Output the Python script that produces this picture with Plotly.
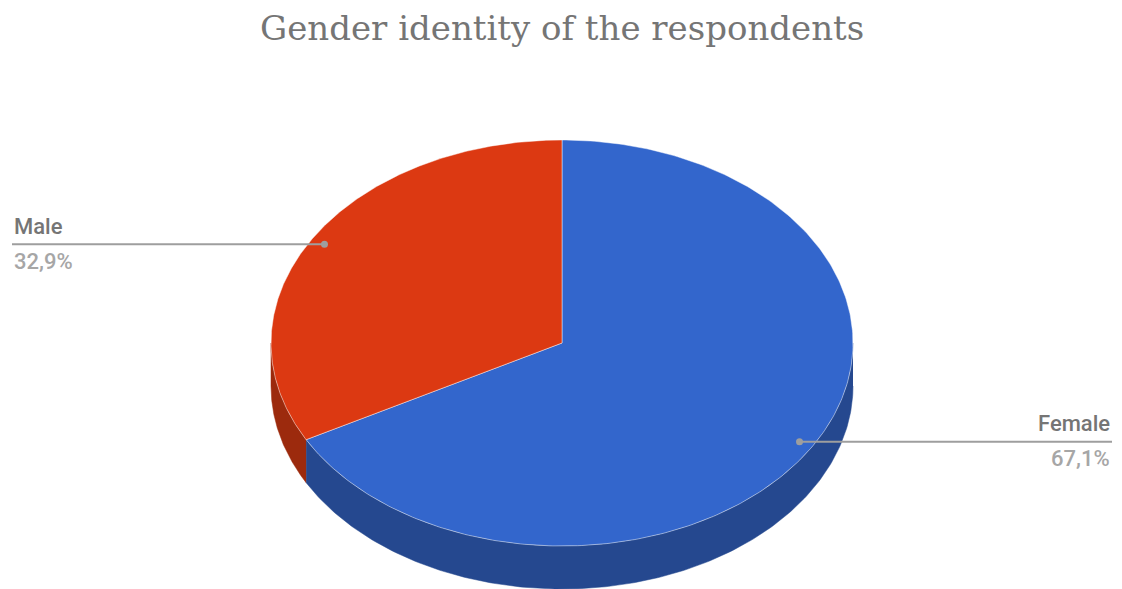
import numpy as np
import plotly.graph_objects as go

# Survey result
categories = ["Female", "Male"]
shares = [67.1, 32.9]
top_colors = ["#3366CC", "#DC3912"]
side_colors = ["#25488F", "#9C2A0D"]
title_text = "Gender identity of the respondents"

W, H = 1122, 589
CX, CY = 562, 343        # centre of the top face (px)
RX, RY = 291, 203        # ellipse radii
DEPTH = 43               # thickness of the disc

def pt(theta_deg, fx=1.0, fy=1.0, dz=0.0):
    t = np.radians(theta_deg)
    return CX + RX * fx * np.sin(t), CY - RY * fy * np.cos(t) + dz

fig = go.Figure()

total = sum(shares)
bounds = []
start = 0.0
for s in shares:
    end = start + 360.0 * s / total
    bounds.append((start, end))
    start = end

# side walls (only the front half, 90..270 deg clockwise from top, is visible)
for (a, b), col in zip(bounds, side_colors):
    lo, hi = max(a, 90.0), min(b, 270.0)
    if hi <= lo:
        continue
    th = np.linspace(lo, hi, 200)
    x1, y1 = pt(th)
    x2, y2 = pt(th[::-1], dz=DEPTH)
    fig.add_trace(go.Scatter(
        x=np.concatenate([x1, x2]), y=np.concatenate([y1, y2]),
        fill="toself", fillcolor=col, mode="lines",
        line=dict(color=col, width=0.5), hoverinfo="skip", showlegend=False))

# top faces
for (a, b), col, name in zip(bounds, top_colors, categories):
    th = np.linspace(a, b, 300)
    x, y = pt(th)
    fig.add_trace(go.Scatter(
        x=np.concatenate([[CX], x, [CX]]), y=np.concatenate([[CY], y, [CY]]),
        fill="toself", fillcolor=col, mode="lines",
        line=dict(color="rgba(255,255,255,0.45)", width=1),
        name=name, hoverinfo="name", showlegend=False))

# leader lines and labels
for (a, b), name, s in zip(bounds, categories, shares):
    mid = (a + b) / 2
    dx, dy = pt(mid, fx=0.95, fy=0.95)
    right = np.sin(np.radians(mid)) > 0
    x_end = 1112 if right else 12
    fig.add_trace(go.Scatter(
        x=[dx, x_end], y=[dy, dy], mode="lines",
        line=dict(color="#9E9E9E", width=2), hoverinfo="skip", showlegend=False))
    fig.add_trace(go.Scatter(
        x=[dx], y=[dy], mode="markers",
        marker=dict(color="#9E9E9E", size=7), hoverinfo="skip", showlegend=False))
    anchor = "right" if right else "left"
    fig.add_annotation(x=x_end, y=dy - 18, text=name, showarrow=False,
                       xanchor=anchor, yanchor="middle",
                       font=dict(family="Roboto", size=22, color="#757575", weight=500))
    fig.add_annotation(x=x_end, y=dy + 17, text=f"{s:.1f}%".replace(".", ","),
                       showarrow=False, xanchor=anchor, yanchor="middle",
                       font=dict(family="Roboto", size=22, color="#A6A6A6", weight=500))

fig.add_annotation(x=CX, y=28, text=title_text, showarrow=False,
                   xanchor="center", yanchor="middle",
                   font=dict(family="DejaVu Serif", size=34, color="#757575"))

fig.update_layout(
    width=W, height=H, margin=dict(l=0, r=0, t=0, b=0),
    paper_bgcolor="white", plot_bgcolor="white",
    xaxis=dict(range=[0, W], visible=False, fixedrange=True),
    yaxis=dict(range=[H, 0], visible=False, fixedrange=True),
)

fig.write_html("out.html")
